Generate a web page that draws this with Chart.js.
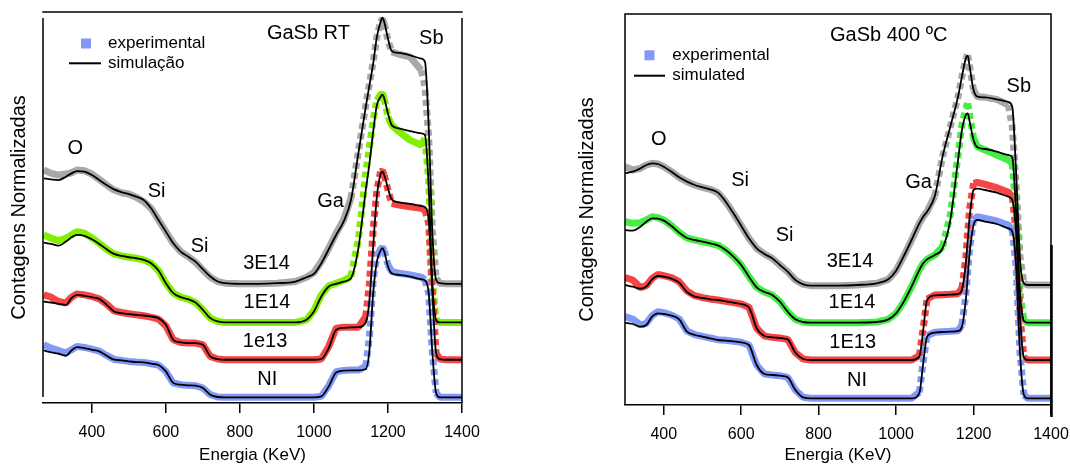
<!DOCTYPE html>
<html>
<head>
<meta charset="utf-8">
<script src="https://cdn.jsdelivr.net/npm/chart.js@4"></script>
<style>
  body { margin: 0; background: #fff; }
  canvas { position: absolute; top: 0; }
</style>
</head>
<body>
<canvas id="rt" width="535" height="466" style="left:0"></canvas>
<canvas id="hot" width="535" height="466" style="left:535px"></canvas>
<script>
// energies (KeV)
const energyRT = [270, 290, 310, 330, 345, 360, 380, 400, 420, 440, 460, 480, 500, 520, 540, 560, 580, 600, 620, 640,
    660, 680, 700, 720, 740, 760, 800, 850, 900, 950, 980, 1000, 1020, 1040, 1060, 1080, 1100, 1120, 1140, 1150,
    1160, 1170, 1180, 1185, 1190, 1200, 1210, 1230, 1260, 1290, 1300, 1310, 1320, 1330, 1340, 1360, 1400];

// normalized counts (curves already offset as in the figure)
const rtExp3E14 = [700, 690, 685, 688, 692, 700, 698, 688, 672, 655, 640, 632, 628, 618, 605, 585, 550, 515, 480, 455,
    440, 423, 400, 378, 365, 360, 358, 358, 360, 365, 378, 392, 425, 465, 510, 550, 615, 755, 895, 960,
    1025, 1100, 1145, 1155, 1140, 1090, 1055, 1048, 1040, 1000, 950, 800, 520, 375, 360, 358, 358];
const rtSim3E14 = [675, 672, 670, 680, 690, 697, 695, 685, 670, 655, 642, 634, 628, 620, 610, 585, 550, 515, 480, 455,
    440, 425, 402, 380, 365, 360, 358, 358, 360, 365, 378, 388, 420, 462, 505, 545, 610, 750, 890, 955,
    1020, 1100, 1145, 1158, 1145, 1095, 1058, 1052, 1045, 1035, 1025, 830, 510, 370, 360, 358, 358];
const rtExp1E14 = [505, 495, 488, 495, 505, 515, 510, 496, 480, 462, 448, 442, 438, 435, 430, 420, 398, 360, 330, 318,
    312, 302, 280, 255, 245, 242, 242, 242, 242, 242, 250, 278, 325, 352, 360, 368, 380, 490, 690, 770,
    850, 910, 927, 930, 915, 860, 835, 815, 790, 775, 795, 670, 360, 250, 242, 242, 242];
const rtSim1E14 = [482, 478, 473, 485, 498, 505, 502, 492, 478, 462, 448, 442, 438, 435, 430, 420, 398, 360, 330, 318,
    312, 302, 280, 255, 245, 242, 242, 242, 242, 242, 250, 275, 320, 350, 358, 365, 375, 465, 640, 720,
    815, 895, 920, 927, 915, 870, 835, 825, 817, 810, 805, 650, 360, 250, 242, 242, 242];
const rtExp1e13 = [325, 318, 305, 300, 318, 328, 325, 320, 313, 297, 277, 272, 268, 265, 262, 258, 252, 232, 190, 182,
    180, 180, 175, 140, 132, 130, 130, 130, 130, 130, 130, 130, 132, 170, 225, 228, 228, 228, 260, 360,
    520, 640, 695, 698, 685, 640, 600, 595, 590, 585, 580, 540, 330, 150, 132, 130, 130];
const rtSim1e13 = [305, 302, 298, 295, 315, 325, 322, 318, 313, 295, 275, 270, 267, 265, 263, 260, 255, 235, 190, 182,
    180, 180, 175, 140, 132, 130, 130, 130, 130, 130, 130, 130, 132, 165, 220, 226, 227, 228, 242, 310,
    470, 620, 688, 695, 685, 645, 612, 603, 598, 592, 588, 550, 330, 150, 132, 130, 130];
const rtExpNI = [175, 165, 158, 150, 160, 170, 167, 162, 156, 143, 131, 128, 125, 123, 122, 118, 114, 95, 60, 55,
    53, 52, 45, 25, 18, 17, 17, 17, 17, 17, 17, 17, 20, 52, 94, 98, 99, 99, 110, 200,
    370, 440, 462, 468, 458, 415, 395, 390, 385, 378, 370, 330, 150, 30, 17, 17, 17];
const rtSimNI = [158, 152, 148, 142, 158, 168, 165, 160, 155, 142, 130, 128, 125, 123, 122, 118, 114, 95, 60, 55,
    53, 52, 45, 25, 18, 17, 17, 17, 17, 17, 17, 17, 20, 50, 92, 97, 98, 98, 102, 160,
    330, 425, 458, 465, 455, 410, 390, 385, 380, 372, 368, 330, 150, 30, 17, 17, 17];

// energies (400 C)
const energyHot = [300, 320, 340, 355, 370, 385, 400, 420, 440, 460, 480, 500, 520, 540, 560, 580, 600, 620, 640, 660,
    680, 700, 720, 740, 760, 780, 800, 850, 900, 950, 980, 1000, 1020, 1040, 1060, 1070, 1080, 1100, 1120, 1140,
    1160, 1170, 1180, 1185, 1190, 1200, 1210, 1230, 1260, 1290, 1300, 1310, 1320, 1330, 1340, 1360, 1400];

const hotExp3E14 = [715, 705, 710, 720, 725, 723, 715, 700, 683, 670, 660, 653, 647, 637, 610, 575, 538, 500, 470, 453,
    440, 420, 400, 375, 362, 358, 358, 358, 360, 365, 377, 403, 447, 495, 545, 565, 580, 627, 745, 835,
    925, 985, 1040, 1050, 1015, 945, 925, 923, 917, 900, 835, 655, 445, 365, 360, 360, 360];
const hotSim3E14 = [695, 700, 710, 720, 725, 723, 715, 700, 683, 670, 660, 653, 647, 637, 610, 575, 538, 500, 470, 453,
    440, 420, 400, 375, 362, 358, 358, 358, 360, 365, 377, 403, 447, 495, 545, 565, 580, 627, 745, 835,
    925, 985, 1040, 1048, 1015, 945, 925, 923, 917, 909, 895, 695, 435, 365, 360, 360, 360];
const hotExp1E14 = [550, 545, 547, 555, 565, 562, 555, 538, 518, 501, 495, 490, 485, 479, 465, 445, 420, 385, 353, 339,
    330, 310, 280, 257, 249, 247, 247, 247, 247, 249, 257, 275, 310, 355, 405, 425, 437, 450, 475, 570,
    750, 840, 890, 905, 870, 800, 775, 765, 750, 735, 725, 580, 335, 253, 247, 247, 247];
const hotSim1E14 = [525, 523, 535, 550, 560, 559, 553, 537, 517, 501, 495, 490, 485, 479, 465, 445, 420, 385, 353, 339,
    330, 310, 280, 257, 249, 247, 247, 247, 247, 249, 257, 275, 310, 355, 405, 425, 437, 450, 470, 555,
    735, 825, 870, 875, 850, 795, 773, 768, 760, 750, 743, 575, 335, 253, 247, 247, 247];
const hotExp1E13 = [382, 375, 352, 358, 380, 392, 388, 382, 370, 342, 328, 322, 318, 315, 311, 307, 303, 293, 230, 207,
    203, 201, 197, 157, 138, 135, 135, 135, 135, 135, 135, 135, 135, 135, 148, 230, 318, 330, 331, 332,
    334, 350, 440, 520, 590, 665, 668, 662, 652, 638, 625, 520, 265, 143, 135, 135, 135];
const hotSim1E13 = [360, 355, 349, 355, 377, 387, 385, 379, 367, 339, 325, 321, 317, 315, 311, 307, 303, 293, 230, 207,
    203, 201, 197, 157, 138, 135, 135, 135, 135, 135, 135, 135, 135, 135, 145, 225, 315, 329, 330, 331,
    333, 345, 425, 495, 565, 645, 649, 645, 637, 625, 615, 515, 265, 143, 135, 135, 135];
const hotExpNI = [265, 258, 240, 245, 268, 280, 277, 270, 258, 222, 211, 206, 201, 196, 194, 191, 188, 180, 120, 93,
    90, 88, 83, 45, 23, 20, 20, 20, 20, 20, 20, 20, 20, 20, 38, 130, 208, 218, 220, 221,
    223, 240, 330, 400, 470, 555, 565, 560, 552, 540, 525, 415, 155, 30, 20, 20, 20];
const hotSimNI = [247, 243, 235, 240, 265, 275, 273, 268, 257, 220, 210, 205, 200, 195, 193, 191, 188, 180, 120, 93,
    90, 88, 83, 45, 23, 20, 20, 20, 20, 20, 20, 20, 20, 20, 35, 125, 205, 217, 219, 220,
    222, 235, 315, 385, 455, 540, 555, 550, 543, 530, 520, 415, 155, 30, 20, 20, 20];

const energyTicks = [400, 600, 800, 1000, 1200, 1400];

// [text, energy, counts]
const rtLabels = [['GaSb RT', 985, 1110], ['Sb', 1317, 1095], ['O', 355, 765], ['Si', 575, 635], ['Si', 691, 470],
    ['Ga', 1045, 605], ['3E14', 872, 420], ['1E14', 873, 302], ['1e13', 868, 185], ['NI', 874, 72]];
const hotLabels = [['GaSb 400 ºC', 981, 1110], ['Sb', 1317, 955], ['O', 387, 797], ['Si', 597, 673], ['Si', 712, 510],
    ['Ga', 1058, 667], ['3E14', 881, 430], ['1E14', 886, 307], ['1E13', 888, 188], ['NI', 899, 73]];

const FONT = '"Liberation Sans", Arial, sans-serif';
const blue = '#8299f7', red = '#f74444', gray = '#a8a8a8';

function steep(c) {
    return Math.abs(c.p1.y - c.p0.y) > 3 * Math.abs(c.p1.x - c.p0.x);
}

function series(energy, exp, sim, color) {
    return [
        {
            data: energy.map((e, i) => ({ x: e, y: exp[i] })),
            borderColor: color,
            borderWidth: 7,
            borderJoinStyle: 'bevel',
            pointRadius: 0,
            tension: 0,
            order: 1,
            segment: { borderDash: c => steep(c) ? [6, 4] : undefined },
        },
        {
            data: energy.map((e, i) => ({ x: e, y: sim[i] })),
            borderColor: '#000',
            borderWidth: 1.8,
            pointRadius: 0,
            cubicInterpolationMode: 'monotone',
            order: 0,
        },
    ];
}

const decor = {
    id: 'decor',
    afterDatasetsDraw(chart, args, o) {
        const { ctx, chartArea: a, scales: { x, y } } = chart;
        ctx.save();
        ctx.strokeStyle = '#000';
        ctx.lineWidth = 1.5;
        ctx.beginPath();
        ctx.moveTo(a.left - 0.75, a.top);
        ctx.lineTo(a.right + 0.75, a.top);
        ctx.moveTo(a.left, a.top + o.gap);
        ctx.lineTo(a.left, a.bottom - o.gap);
        ctx.moveTo(a.right, a.top + o.gap);
        ctx.lineTo(a.right, a.bottom);
        ctx.stroke();
        if (o.thick) {
            ctx.lineWidth = 2.5;
            ctx.beginPath();
            ctx.moveTo(a.right + 0.5, o.thick);
            ctx.lineTo(a.right + 0.5, a.bottom + 12);
            ctx.stroke();
        }

        ctx.fillStyle = '#000';
        ctx.font = '20px ' + FONT;
        ctx.textAlign = 'center';
        ctx.textBaseline = 'middle';
        o.labels.forEach(([t, e, v]) => {
            ctx.fillText(t, x.getPixelForValue(e), y.getPixelForValue(v));
        });

        // legend
        const L = o.legend;
        ctx.fillStyle = blue;
        ctx.fillRect(a.left + L.sq[0] - 5, a.top + L.sq[1] - 5, 10, 10);
        ctx.lineWidth = 2;
        ctx.beginPath();
        ctx.moveTo(a.left + L.line[0], a.top + L.line[2]);
        ctx.lineTo(a.left + L.line[1], a.top + L.line[2]);
        ctx.stroke();
        ctx.fillStyle = '#000';
        ctx.font = '17px ' + FONT;
        ctx.textAlign = 'left';
        ctx.fillText('experimental', a.left + L.text, a.top + L.sq[1]);
        ctx.fillText(L.sim, a.left + L.text, a.top + L.line[2]);
        ctx.restore();
    },
};

function makeChart(id, cfg) {
    return new Chart(document.getElementById(id), {
        type: 'line',
        data: { datasets: cfg.datasets },
        plugins: [decor],
        options: {
            responsive: false,
            animation: false,
            devicePixelRatio: 1,
            events: [],
            layout: { padding: { left: 0, top: cfg.top, right: cfg.right, bottom: 0 } },
            plugins: {
                legend: { display: false },
                tooltip: { enabled: false },
                decor: cfg.decor,
            },
            scales: {
                x: {
                    type: 'linear',
                    min: cfg.xMin,
                    max: 1400,
                    afterBuildTicks: s => { s.ticks = energyTicks.map(v => ({ value: v })); },
                    afterFit: s => { s.height = cfg.xHeight; s.paddingLeft = 0; s.paddingRight = 0; },
                    grid: { display: true, drawOnChartArea: false, drawTicks: true, tickLength: 10, color: '#000', lineWidth: 1.5 },
                    border: { display: true, color: '#000', width: 1.5 },
                    ticks: {
                        color: '#000',
                        font: { size: 16, family: FONT },
                        padding: 10,
                        maxRotation: 0,
                        autoSkip: false,
                        callback: v => String(v),
                    },
                    title: {
                        display: true,
                        text: 'Energia (KeV)',
                        color: '#000',
                        font: { size: 17, family: FONT },
                        padding: { top: 0, bottom: 0 },
                    },
                },
                y: {
                    min: 0,
                    max: cfg.yMax,
                    afterFit: s => { s.width = cfg.yWidth; },
                    grid: { display: false },
                    border: { display: false },
                    ticks: { display: false },
                    title: {
                        display: true,
                        text: 'Contagens Normalizadas',
                        color: '#000',
                        font: { size: 20, family: FONT },
                        padding: { top: cfg.titlePad, bottom: 0 },
                    },
                },
            },
        },
    });
}

makeChart('rt', {
    datasets: [
        ...series(energyRT, rtExpNI, rtSimNI, blue),
        ...series(energyRT, rtExp1e13, rtSim1e13, red),
        ...series(energyRT, rtExp1E14, rtSim1E14, '#80f000'),
        ...series(energyRT, rtExp3E14, rtSim3E14, gray),
    ],
    xMin: 268, yMax: 1175,
    top: 12, right: 73, yWidth: 43, xHeight: 63, titlePad: 7.5,
    decor: {
        gap: 6, thick: 0, labels: rtLabels,
        legend: { sq: [43, 31.5], line: [26, 58, 51.3], text: 65, sim: 'simulação' },
    },
});

makeChart('hot', {
    datasets: [
        ...series(energyHot, hotExpNI, hotSimNI, blue),
        ...series(energyHot, hotExp1E13, hotSim1E13, red),
        ...series(energyHot, hotExp1E14, hotSim1E14, '#44ee44'),
        ...series(energyHot, hotExp3E14, hotSim3E14, gray),
    ],
    xMin: 300, yMax: 1173,
    top: 14, right: 19, yWidth: 90, xHeight: 61, titlePad: 40,
    decor: {
        gap: 0, thick: 245, labels: hotLabels,
        legend: { sq: [24.5, 41.3], line: [9, 40, 61.7], text: 47.3, sim: 'simulated' },
    },
});
</script>
</body>
</html>
